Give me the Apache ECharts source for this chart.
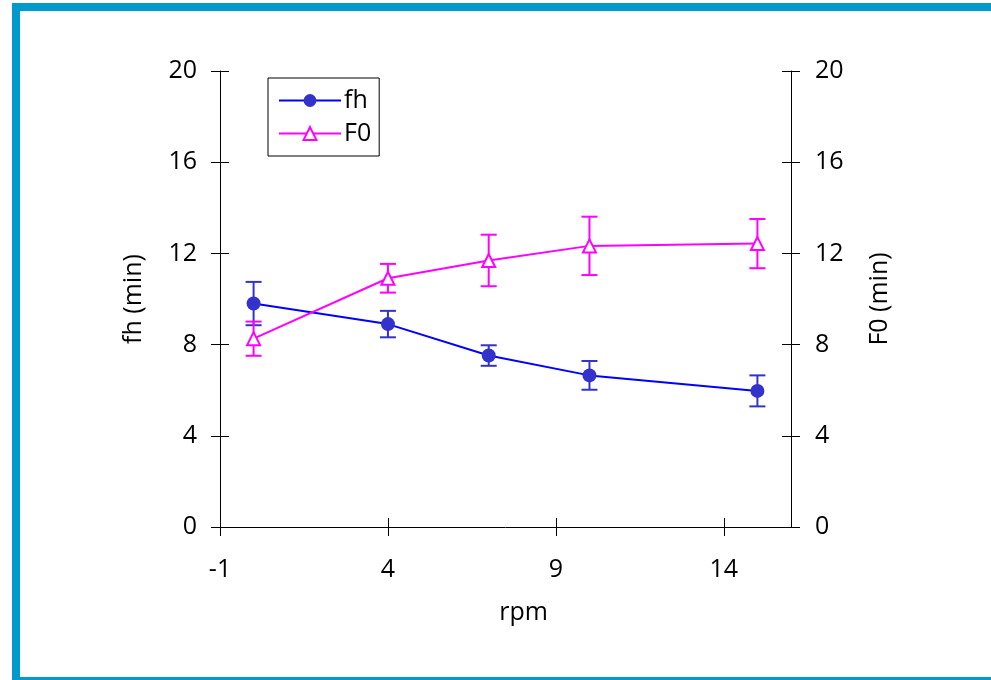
<!DOCTYPE html>
<html>
<head>
<meta charset="utf-8">
<script src="https://cdn.jsdelivr.net/npm/echarts@6/dist/echarts.min.js"></script>
<style>
html,body{margin:0;padding:0;background:#fff;}
#c{width:991px;height:680px;}
</style>
</head>
<body>
<div id="c"></div>
<script>
const xValues = [0, 4, 7, 10, 15];
const fhMean = [9.8, 8.9, 7.52, 6.65, 5.97];
const fhErr = [0.95, 0.58, 0.45, 0.63, 0.68];
const f0Mean = [8.26, 10.91, 11.69, 12.33, 12.43];
const f0Err = [0.75, 0.63, 1.13, 1.28, 1.08];
const xTicks = [-1, 4, 9, 14];
const xName = 'rpm';
const yLeftName = 'fh (min)';
const yRightName = 'F0 (min)';

const FONT = 'Open Sans';
const FS = 25;

function errRender(color) {
  return function (params, api) {
    const x = api.value(0), lo = api.value(1), hi = api.value(2);
    const pH = api.coord([x, hi]);
    const pL = api.coord([x, lo]);
    const w = 8;
    const st = { stroke: color, lineWidth: 2 };
    return {
      type: 'group',
      children: [
        { type: 'line', shape: { x1: pH[0], y1: pH[1], x2: pL[0], y2: pL[1] }, style: st },
        { type: 'line', shape: { x1: pH[0] - w, y1: pH[1], x2: pH[0] + w, y2: pH[1] }, style: st },
        { type: 'line', shape: { x1: pL[0] - w, y1: pL[1], x2: pL[0] + w, y2: pL[1] }, style: st }
      ]
    };
  };
}

const labelStyle = { fontFamily: FONT, fontSize: FS, color: '#000' };
const axisLineStyle = { show: true, onZero: false, lineStyle: { color: '#000', width: 1 } };

function yAxisBase(pos, inside, main) {
  return {
    type: 'value', position: pos, min: 0, max: 20, interval: 4,
    axisLine: main ? axisLineStyle : { show: false, onZero: false },
    axisTick: { show: true, inside: inside, length: 9, lineStyle: { color: '#000' } },
    axisLabel: main ? Object.assign({ show: true, margin: 23 }, labelStyle) : { show: false },
    splitLine: { show: false }
  };
}

const yL = yAxisBase('left', false, true);
yL.name = yLeftName; yL.nameLocation = 'middle'; yL.nameRotate = 90; yL.nameGap = 74;
yL.nameTextStyle = { fontFamily: FONT, fontSize: FS, color: '#000' };
const yR = yAxisBase('right', false, true);
yR.name = yRightName; yR.nameLocation = 'middle'; yR.nameRotate = 90; yR.nameGap = 76;
yR.nameTextStyle = { fontFamily: FONT, fontSize: FS, color: '#000' };
yR.axisLabel.margin = 24;

const option = {
  animation: false,
  backgroundColor: '#fff',
  graphic: [
    { type: 'rect', shape: { x: 12, y: 3, width: 8, height: 677 }, style: { fill: '#009acd' }, silent: true },
    { type: 'rect', shape: { x: 12, y: 3, width: 979, height: 8 }, style: { fill: '#009acd' }, silent: true },
    { type: 'rect', shape: { x: 12, y: 677, width: 979, height: 3 }, style: { fill: '#009acd' }, silent: true }
  ],
  grid: { left: 220, right: 200, top: 71, bottom: 153, containLabel: false },
  legend: {
    data: ['fh', 'F0'],
    orient: 'vertical',
    left: 268, top: 78,
    borderColor: '#000', borderWidth: 1,
    padding: [10, 8, 10, 10],
    itemWidth: 62, itemHeight: 16, itemGap: 8,
    textStyle: { fontFamily: FONT, fontSize: FS, color: '#000', padding: [0, 0, 0, -2] }
  },
  xAxis: [
    {
      type: 'value', position: 'bottom', min: -1, max: 16,
      axisLine: axisLineStyle,
      axisTick: { show: true, inside: false, length: 9, customValues: xTicks, lineStyle: { color: '#000' } },
      axisLabel: Object.assign({ show: true, margin: 30, customValues: xTicks }, labelStyle),
      splitLine: { show: false },
      name: xName, nameLocation: 'middle', nameGap: 73,
      nameTextStyle: { fontFamily: FONT, fontSize: FS, color: '#000', padding: [0, 0, 0, 36] }
    },
    {
      type: 'value', position: 'bottom', offset: 0, min: -1, max: 16,
      axisLine: { show: false, onZero: false },
      axisTick: { show: true, inside: true, length: 9, customValues: xTicks, lineStyle: { color: '#000' } },
      axisLabel: { show: false, customValues: xTicks },
      splitLine: { show: false }
    }
  ],
  yAxis: [yL, yR, yAxisBase('left', true, false), yAxisBase('right', true, false)],
  series: [
    {
      type: 'custom', name: 'fhErr', xAxisIndex: 0, yAxisIndex: 0, z: 1,
      renderItem: errRender('#3333cc'),
      data: xValues.map((x, i) => [x, fhMean[i] - fhErr[i], fhMean[i] + fhErr[i]])
    },
    {
      type: 'custom', name: 'F0Err', xAxisIndex: 0, yAxisIndex: 1, z: 1,
      renderItem: errRender('#ff00ff'),
      data: xValues.map((x, i) => [x, f0Mean[i] - f0Err[i], f0Mean[i] + f0Err[i]])
    },
    {
      type: 'line', name: 'fh', xAxisIndex: 0, yAxisIndex: 0, z: 3,
      data: xValues.map((x, i) => [x, fhMean[i]]),
      symbol: 'circle', symbolSize: 14,
      lineStyle: { color: '#0000ff', width: 2 },
      itemStyle: { color: '#3333cc', borderColor: '#3333cc', borderWidth: 0 }
    },
    {
      type: 'line', name: 'F0', xAxisIndex: 0, yAxisIndex: 1, z: 3,
      data: xValues.map((x, i) => [x, f0Mean[i]]),
      symbol: 'triangle', symbolSize: 13,
      lineStyle: { color: '#ff00ff', width: 2 },
      itemStyle: { color: '#ffffff', borderColor: '#ff00ff', borderWidth: 2 }
    }
  ]
};

const chart = echarts.init(document.getElementById('c'), null, { renderer: 'canvas' });
chart.setOption(option);
</script>
</body>
</html>
